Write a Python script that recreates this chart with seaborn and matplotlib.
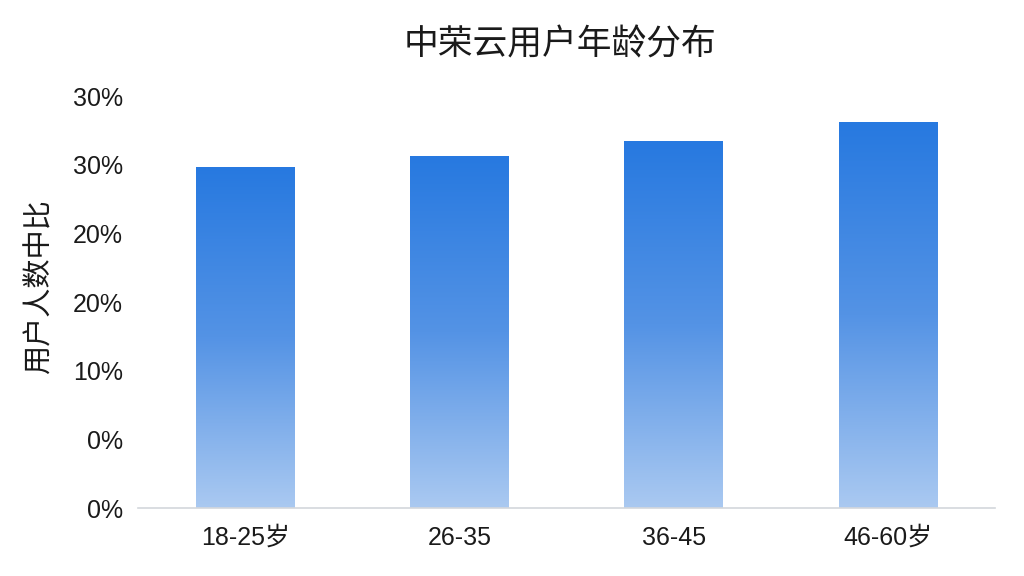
import numpy as np
import pandas as pd
import matplotlib
matplotlib.use("Agg")
import matplotlib.pyplot as plt
import seaborn as sns
from matplotlib.colors import LinearSegmentedColormap

# data
age_groups = ["18-25岁", "26-35", "36-45", "46-60岁"]
user_share = [24.8, 25.6, 26.7, 28.1]
tick_values = [0, 5, 10, 15, 20, 25, 30]
tick_labels = ["0%", "0%", "10%", "20%", "20%", "30%", "30%"]

sns.set_theme(style="white")
plt.rcParams["font.family"] = ["Liberation Sans", "Noto Sans CJK SC", "DejaVu Sans"]

df = pd.DataFrame({"age": age_groups, "share": user_share})

fig = plt.figure(figsize=(10.24, 5.76), dpi=100)
ax = fig.add_axes([0.1348, 0.118, 0.8369, 0.7153])

sns.barplot(data=df, x="age", y="share", ax=ax, width=0.46,
            color="#2a7be0", edgecolor="none")

# vertical gradient fill, clipped to each bar
cmap = LinearSegmentedColormap.from_list("bar_grad", ["#aac9f1", "#5493e5", "#2779e0"])
grad = np.linspace(0, 1, 256).reshape(-1, 1)
for patch in ax.patches:
    x0, y0 = patch.get_x(), patch.get_y()
    w, h = patch.get_width(), patch.get_height()
    patch.set_facecolor("none")
    img = ax.imshow(grad, cmap=cmap, aspect="auto", origin="lower",
                    extent=[x0, x0 + w, y0, y0 + h], zorder=2)
    img.set_clip_path(patch)

ax.set_xlim(-0.5, 3.5)
ax.set_ylim(0, 30)
ax.set_yticks(tick_values)
ax.set_yticklabels(tick_labels)
ax.tick_params(axis="both", length=0, labelsize=18, colors="#1a1a1a")
ax.tick_params(axis="y", pad=11)
ax.tick_params(axis="x", pad=13)

for side in ["top", "right", "left"]:
    ax.spines[side].set_visible(False)
ax.spines["bottom"].set_color("#d3d7dc")
ax.spines["bottom"].set_linewidth(1.2)

ax.set_xlabel("")
ax.set_ylabel("")
fig.text(0.039, 0.503, "用户人数中比", rotation=90, fontsize=21, color="#1a1a1a",
         ha="center", va="center")
fig.text(0.547, 0.922, "中荣云用户年龄分布", fontsize=25, color="#1a1a1a",
         ha="center", va="center")

fig.savefig("out.png", dpi=100, facecolor="white")
